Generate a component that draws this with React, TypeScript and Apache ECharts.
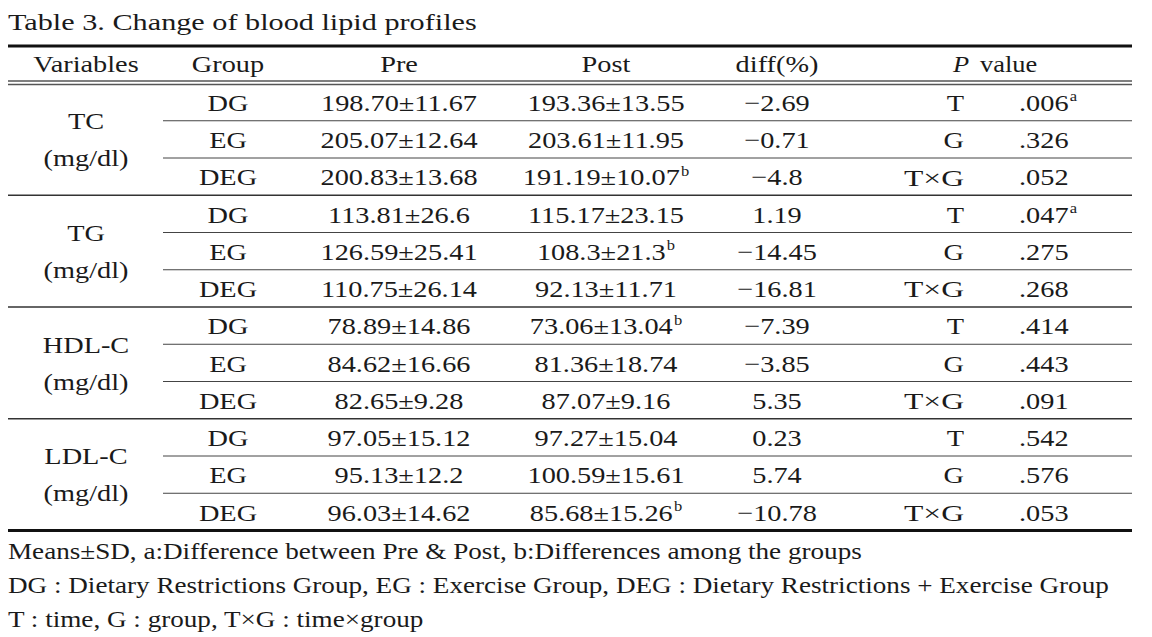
import React, { useEffect, useRef } from "react";
import * as echarts from "echarts";

const title = "Table 3. Change of blood lipid profiles";
const headers = ["Variables", "Group", "Pre", "Post", "diff(%)"];
const variables = ["TC", "TG", "HDL-C", "LDL-C"];
const unit = "(mg/dl)";
const groups = ["DG", "EG", "DEG"];
const preValues = [
  "198.70±11.67", "205.07±12.64", "200.83±13.68",
  "113.81±26.6", "126.59±25.41", "110.75±26.14",
  "78.89±14.86", "84.62±16.66", "82.65±9.28",
  "97.05±15.12", "95.13±12.2", "96.03±14.62",
];
const postValues = [
  "193.36±13.55", "203.61±11.95", "191.19±10.07",
  "115.17±23.15", "108.3±21.3", "92.13±11.71",
  "73.06±13.04", "81.36±18.74", "87.07±9.16",
  "97.27±15.04", "100.59±15.61", "85.68±15.26",
];
const postSup = ["", "", "b", "", "b", "", "b", "", "", "", "", "b"];
const diffValues = [
  "−2.69", "−0.71", "−4.8",
  "1.19", "−14.45", "−16.81",
  "−7.39", "−3.85", "5.35",
  "0.23", "5.74", "−10.78",
];
const pTerms = ["T", "G", "T×G"];
const pValues = [
  ".006", ".326", ".052",
  ".047", ".275", ".268",
  ".414", ".443", ".091",
  ".542", ".576", ".053",
];
const pSup = ["a", "", "", "a", "", "", "", "", "", "", "", ""];
const footnotes = [
  "Means±SD, a:Difference between Pre & Post, b:Differences among the groups",
  "DG : Dietary Restrictions Group, EG : Exercise Group, DEG : Dietary Restrictions + Exercise Group",
  "T : time, G : group, T×G : time×group",
];

const FONT = "'Liberation Serif', 'DejaVu Serif', serif";
const COLOR = "#1a1a1a";
const FS = 24;
const SX = 1.18;

export default function App() {
  const ref = useRef<HTMLDivElement>(null);
  useEffect(() => {
    if (!ref.current) return;
    const chart = echarts.init(ref.current, undefined, { renderer: "svg" });
    const left = 8, right = 1132, subLeft = 163;
    const rowTop = 83.5, rowH = 37.25;
    const colX = { variables: 86, group: 228, pre: 399, post: 606, diff: 777, term: 964, pval: 1019 };
    const rich = {
      n: { fontFamily: FONT, fontSize: FS, fill: COLOR, lineHeight: 28 },
      s: { fontFamily: FONT, fontSize: 14, fill: COLOR, lineHeight: 28, verticalAlign: "top", padding: [0, 0, 0, 1] },
    };
    const els: any[] = [];
    const txt = (x: number, y: number, text: string, align = "center", extra: any = {}, sx = SX) => {
      els.push({
        type: "text",
        x, y, scaleX: sx,
        style: { text, fontFamily: FONT, fontSize: FS, fill: COLOR, align, verticalAlign: "middle", ...extra },
      });
    };
    const richTxt = (x: number, y: number, main: string, sup: string, align = "center") => {
      els.push({
        type: "text",
        x, y, scaleX: SX,
        style: {
          text: sup ? `{n|${main}}{s|${sup}}` : `{n|${main}}`,
          rich, align, verticalAlign: "middle",
        },
      });
    };
    const line = (x1: number, x2: number, y: number, w: number, c: string) => {
      els.push({ type: "line", shape: { x1, y1: y, x2, y2: y }, style: { stroke: c, lineWidth: w } });
    };

    // title
    txt(left, 22, title, "left", { fontSize: 24 }, 1.26);
    // header
    line(left, right, 46, 3, "#111");
    const headerY = 64;
    const hx = [colX.variables, colX.group, colX.pre, colX.post, colX.diff];
    headers.forEach((h, i) => txt(hx[i], headerY, h));
    txt(953, headerY, "P", "left", { fontStyle: "italic" }, 1.1);
    txt(980, headerY, "value", "left", {}, 1.1);
    line(left, right, 81, 1.3, "#555");
    line(left, right, 84.5, 1.3, "#555");

    // body
    variables.forEach((v, b) => {
      const mid = rowTop + rowH * (b * 3 + 1.5);
      txt(colX.variables, mid - 18, v);
      txt(colX.variables, mid + 19, unit);
      groups.forEach((g, k) => {
        const i = b * 3 + k;
        const y = rowTop + rowH * (i + 0.5) + 1;
        txt(colX.group, y, g);
        txt(colX.pre, y, preValues[i]);
        richTxt(colX.post, y, postValues[i], postSup[i]);
        txt(colX.diff, y, diffValues[i]);
        txt(colX.term, y, pTerms[k], "right", {}, k === 2 ? 1.32 : SX);
        richTxt(colX.pval, y, pValues[i], pSup[i], "left");
        if (k < 2) line(subLeft, right, rowTop + rowH * (i + 1), 1, "#444");
      });
      if (b < variables.length - 1) line(left, right, rowTop + rowH * (b * 3 + 3), 1.5, "#333");
    });
    line(left, right, rowTop + rowH * 12, 3, "#111");

    // footnotes
    footnotes.forEach((f, i) => txt(left, 551 + i * 34, f, "left", { fontSize: 23 }));

    chart.setOption({
      animation: false,
      backgroundColor: "#ffffff",
      graphic: { elements: els },
    });
    return () => chart.dispose();
  }, []);
  return (
    <div
      ref={ref}
      style={{ position: "fixed", left: 0, top: 0, width: 1152, height: 637, background: "#fff" }}
    />
  );
}
